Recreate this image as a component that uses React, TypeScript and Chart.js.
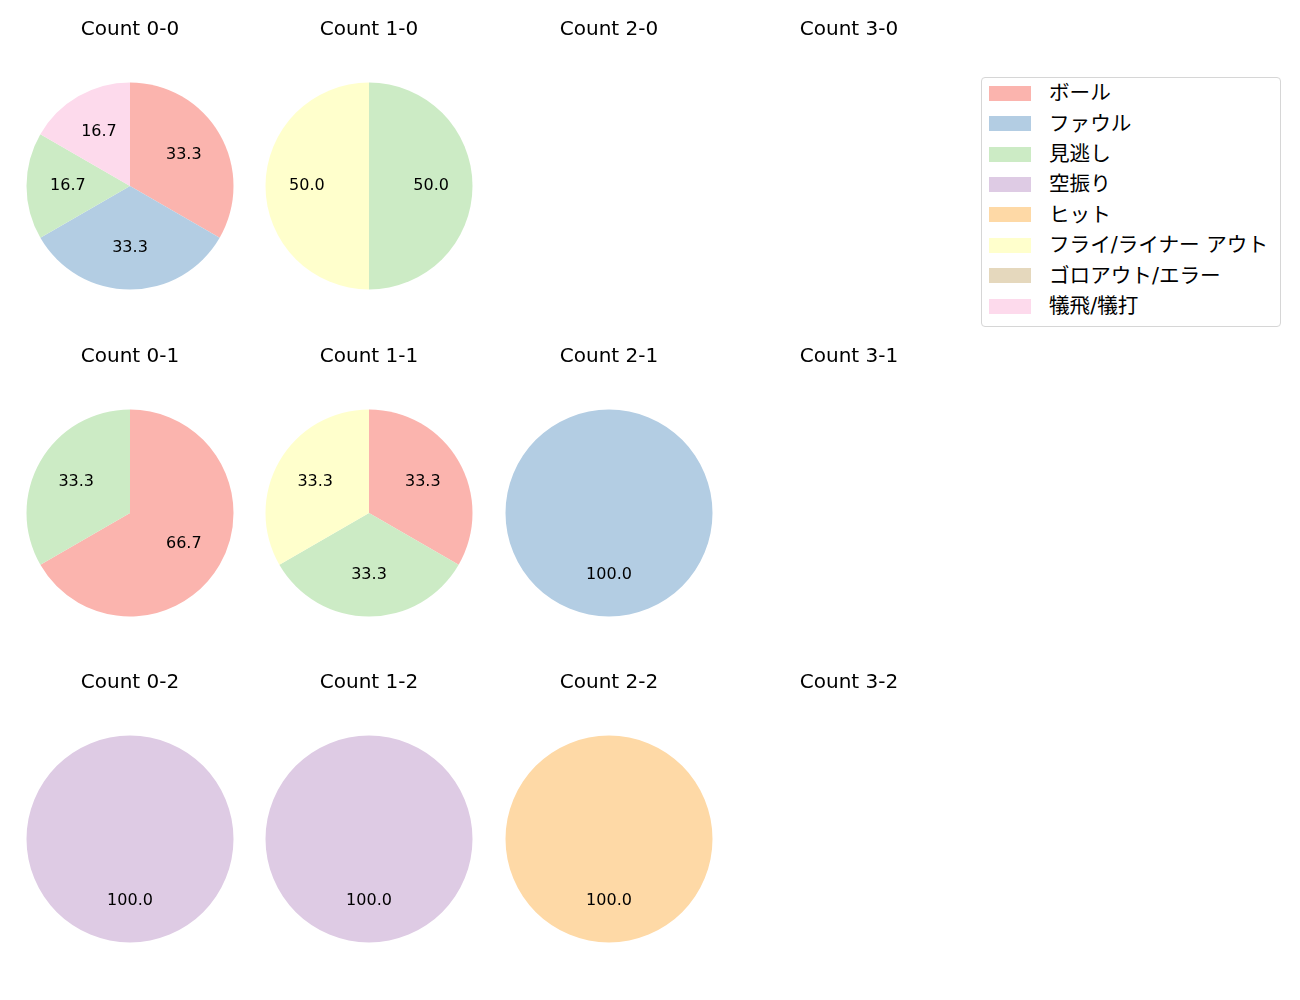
import React, { useEffect, useRef } from "react";
import { Chart, registerables } from "chart.js";

Chart.register(...registerables);

// Outcome categories and their colours (Pastel1)
const outcomeLabels = [
  "ボール",
  "ファウル",
  "見逃し",
  "空振り",
  "ヒット",
  "フライ/ライナー アウト",
  "ゴロアウト/エラー",
  "犠飛/犠打",
];
const outcomeColors = [
  "#fbb4ae",
  "#b3cde3",
  "#ccebc5",
  "#decbe4",
  "#fed9a6",
  "#ffffcc",
  "#e5d8bd",
  "#fddaec",
];

// Pitch counts per ball-strike count (order follows outcomeLabels)
const count00 = [2, 2, 1, 0, 0, 0, 0, 1];
const count10 = [0, 0, 1, 0, 0, 1, 0, 0];
const count20: number[] = [];
const count30: number[] = [];
const count01 = [2, 0, 1, 0, 0, 0, 0, 0];
const count11 = [1, 0, 1, 0, 0, 1, 0, 0];
const count21 = [0, 1, 0, 0, 0, 0, 0, 0];
const count31: number[] = [];
const count02 = [0, 0, 0, 1, 0, 0, 0, 0];
const count12 = [0, 0, 0, 1, 0, 0, 0, 0];
const count22 = [0, 0, 0, 0, 1, 0, 0, 0];
const count32: number[] = [];

const gridTitles = [
  ["Count 0-0", "Count 1-0", "Count 2-0", "Count 3-0"],
  ["Count 0-1", "Count 1-1", "Count 2-1", "Count 3-1"],
  ["Count 0-2", "Count 1-2", "Count 2-2", "Count 3-2"],
];
const gridValues = [
  [count00, count10, count20, count30],
  [count01, count11, count21, count31],
  [count02, count12, count22, count32],
];

const FONT = '"DejaVu Sans", "Noto Sans CJK JP", sans-serif';

const pctPlugin = {
  id: "pctLabels",
  afterDatasetsDraw(chart: any) {
    const ds = chart.data.datasets[0];
    if (!ds) return;
    const vals = ds.data as number[];
    const total = vals.reduce((a, b) => a + b, 0);
    if (!total) return;
    const meta = chart.getDatasetMeta(0);
    const ctx = chart.ctx;
    ctx.save();
    ctx.font = `16px ${FONT}`;
    ctx.fillStyle = "#000";
    ctx.textAlign = "center";
    ctx.textBaseline = "middle";
    meta.data.forEach((arc: any, i: number) => {
      const v = vals[i];
      if (!v) return;
      const { x, y, startAngle, endAngle, outerRadius } = arc.getProps(
        ["x", "y", "startAngle", "endAngle", "outerRadius"],
        true
      );
      const mid = (startAngle + endAngle) / 2;
      const r = outerRadius * 0.6;
      ctx.fillText(((v / total) * 100).toFixed(1), x + Math.cos(mid) * r, y + Math.sin(mid) * r);
    });
    ctx.restore();
  },
};

const CELL_W = 240;
const CELL_H = 290;

function PieCell({ title, values, left, top }: { title: string; values: number[]; left: number; top: number }) {
  const ref = useRef<HTMLCanvasElement | null>(null);
  useEffect(() => {
    if (!ref.current) return;
    const chart = new Chart(ref.current, {
      type: "pie",
      data: {
        labels: values.length ? outcomeLabels : [],
        datasets: [
          {
            data: values,
            backgroundColor: outcomeColors,
            borderWidth: 0,
          },
        ],
      },
      options: {
        responsive: false,
        animation: false,
        events: [],
        layout: { padding: { left: 16.5, right: 16.5, top: 0, bottom: 0.5 } },
        plugins: {
          legend: { display: false },
          tooltip: { enabled: false },
          title: {
            display: true,
            text: title,
            color: "#000",
            font: { family: FONT, size: 20, weight: "normal", lineHeight: 1.2 },
            padding: { top: 18, bottom: 40.5 },
          },
        },
      },
      plugins: [pctPlugin],
    });
    return () => chart.destroy();
  }, [title, values]);
  return (
    <canvas
      ref={ref}
      width={CELL_W}
      height={CELL_H}
      style={{ position: "absolute", left, top, width: CELL_W, height: CELL_H }}
    />
  );
}

export default function App() {
  const cells: React.ReactNode[] = [];
  for (let r = 0; r < 3; r++) {
    for (let c = 0; c < 4; c++) {
      const cx = 129.5 + 239.7 * c;
      const cy = 186 + 326.5 * r;
      cells.push(
        <PieCell
          key={`${r}-${c}`}
          title={gridTitles[r][c]}
          values={gridValues[r][c]}
          left={Math.round(cx - CELL_W / 2)}
          top={Math.round(cy - 186)}
        />
      );
    }
  }
  return (
    <div
      style={{
        position: "absolute",
        left: 0,
        top: 0,
        width: 1300,
        height: 1000,
        background: "#fff",
        overflow: "hidden",
      }}
    >
      {cells}
      <div
        style={{
          position: "absolute",
          left: 981,
          top: 77,
          width: 300,
          height: 250,
          border: "1px solid #d6d6d6",
          borderRadius: 4,
          boxSizing: "border-box",
          fontFamily: FONT,
          fontSize: 20.6,
          color: "#000",
        }}
      >
        {outcomeLabels.map((lab, i) => (
          <div
            key={lab}
            style={{
              position: "absolute",
              left: 0,
              top: 15.3 + i * 30.4 - 15.2,
              height: 30.4,
              display: "flex",
              alignItems: "center",
              whiteSpace: "nowrap",
            }}
          >
            <span
              style={{
                display: "inline-block",
                marginLeft: 7,
                width: 42,
                height: 15,
                background: outcomeColors[i],
              }}
            />
            <span style={{ marginLeft: 18, lineHeight: "30.4px" }}>{lab}</span>
          </div>
        ))}
      </div>
    </div>
  );
}
